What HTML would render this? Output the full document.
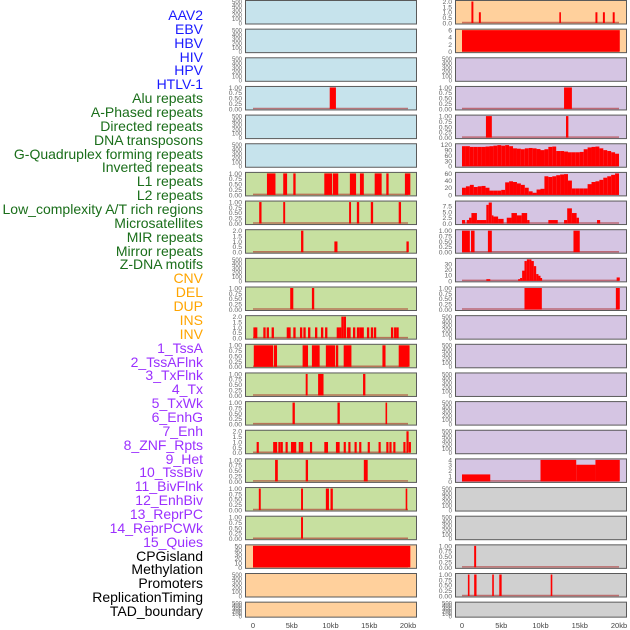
<!DOCTYPE html>
<html><head><meta charset="utf-8">
<style>
html,body{margin:0;padding:0;background:#fff;}
#wrap{position:relative;width:630px;height:630px;overflow:hidden;font-family:"Liberation Sans",sans-serif;}
.lab{position:absolute;right:427px;font-size:14px;line-height:14px;white-space:nowrap;}
svg{position:absolute;left:0;top:0;}
</style></head>
<body>
<div id="wrap">
<div id="labels"></div>
<svg id="plot" width="630" height="630"></svg>
</div>
<script>
const labelNames = ["AAV2","EBV","HBV","HIV","HPV","HTLV-1","Alu repeats","A-Phased repeats","Directed repeats","DNA transposons","G-Quadruplex forming repeats","Inverted repeats","L1 repeats","L2 repeats","Low_complexity A/T rich regions","Microsatellites","MIR repeats","Mirror repeats","Z-DNA motifs","CNV","DEL","DUP","INS","INV","1_TssA","2_TssAFlnk","3_TxFlnk","4_Tx","5_TxWk","6_EnhG","7_Enh","8_ZNF_Rpts","9_Het","10_TssBiv","11_BivFlnk","12_EnhBiv","13_ReprPC","14_ReprPCWk","15_Quies","CPGisland","Methylation","Promoters","ReplicationTiming","TAD_boundary"];
const labelColors = ["#1a1aff","#1a1aff","#1a1aff","#1a1aff","#1a1aff","#1a1aff",
 "#1a6e1a","#1a6e1a","#1a6e1a","#1a6e1a","#1a6e1a","#1a6e1a","#1a6e1a","#1a6e1a","#1a6e1a","#1a6e1a","#1a6e1a","#1a6e1a","#1a6e1a",
 "#ffa500","#ffa500","#ffa500","#ffa500","#ffa500",
 "#9b30ff","#9b30ff","#9b30ff","#9b30ff","#9b30ff","#9b30ff","#9b30ff","#9b30ff","#9b30ff","#9b30ff","#9b30ff","#9b30ff","#9b30ff","#9b30ff","#9b30ff",
 "#000","#000","#000","#000","#000"];

const c1Alu = [[9.9,10.7,1]];
const c1L1 = [[1.8,2.9,1],[3.9,4.4,1],[5.2,5.5,1],[9.2,10.2,1],[10.3,11.0,1],[12.5,13.3,1],[13.8,14.3,1],[15.7,16.6,1],[17.2,17.5,1],[19.6,20.3,1]];
const c1Low = [[0.8,1.1,1],[3.9,4.15,1],[12.4,12.65,1],[13.4,13.7,1],[15.2,15.5,1],[18.8,19.1,1]];
const c1MIR = [[6.2,6.5,2],[10.5,10.9,1],[19.8,20.1,1]];
const c1DEL = [[4.8,5.2,1],[7.6,7.9,1]];
const c1INSstarts = [0.05,0.26,1.33,1.76,2.4,4.35,4.56,5.2,6.06,6.5,7.1,8.0,8.77,9.3,10.8,11.1,11.4,11.7,12.1,12.3,12.9,13.4,13.7,14.0,14.7,15.2,15.6,17.8,18.2,18.5];
const c1INSvalues = [1,1,1,1,1,1,1,1,1,1,1,1,1,1,1,1,2,2,1,1,1,1,1,1,1,1,1,1,1,1];
const c1TssA = [[0.1,2.6,1],[2.7,3.1,1],[6.4,7.1,1],[7.6,8.6,1],[9.4,10.6,1],[10.7,11.0,1],[11.7,12.7,1],[16.7,17.1,1],[18.8,20.2,1]];
const c1TxFlnk = [[6.8,7.05,1],[8.4,9.1,1],[14.2,14.5,1]];
const c1TxWk = [[5.1,5.4,1],[10.9,11.2,1],[17.1,17.3,1]];
const c1EnhStarts = [0.47,2.6,2.84,3.27,3.57,4.2,4.9,5.1,5.3,5.9,6.2,7.35,9.2,9.4,10.7,10.9,11.7,12.3,13.1,13.7,14.8,16.2,17.2,17.6,18.1,19.4,19.8,20.1];
const c1EnhValues = [1,1,1,1,1,1,1,1,1,1,1,1,1,1,1,1,1,1,1,1,1,1,1,1,1,1,2,1];
const c1Het = [[2.85,3.2,1],[6.8,7.1,1],[14.3,14.8,1]];
const c1BivFlnk = [[0.75,1.0,1],[6.2,6.45,1],[9.4,9.8,1],[10.0,10.3,1],[19.7,19.9,1]];
const c1EnhBiv = [[6.2,6.45,1]];
const c1CpG = [[0,20.3,50]];

const c2AAV2 = [[1.2,1.45,2],[2.15,2.4,1],[12.4,12.6,1],[17.0,17.25,1],[17.95,18.2,1],[19.2,19.45,1]];
const c2EBV = [[0,20.1,6]];
const c2Alu = [[13.0,14.0,1]];
const c2Directed = [[3.05,3.8,1],[13.25,13.55,1]];
const c2GQuad = [112,112,108,108,108,108,110,112,115,118,115,118,112,100,98,95,100,102,100,96,90,95,108,110,85,85,82,78,78,78,80,95,105,108,110,100,90,85,78,70];
const c2Inverted = [20,24,28,22,24,25,20,12,12,12,14,35,38,36,32,28,20,10,6,15,17,52,50,52,55,57,58,40,18,18,18,18,30,36,38,42,48,52,56,60];
const c2Low = [[0,0.4,1.5],[0.6,0.9,1.5],[0.9,1.2,2.5],[1.2,1.9,4.5],[1.9,3.1,1.5],[3.1,3.4,8],[3.4,3.8,9],[3.8,4.0,3.5],[4.0,4.6,3],[4.6,5.3,2],[5.7,6.3,2.5],[6.3,7.0,4.5],[7.0,7.6,3.5],[7.6,8.3,4.5],[8.3,8.6,1.5],[11.0,12.2,1.5],[13.0,13.4,1.5],[13.4,14.0,6.5],[14.0,14.6,4.5],[14.6,14.9,2.5],[17.2,17.6,1.5]];
const c2Mirror = [[0,1.0,1],[1.15,1.6,1],[3.3,3.8,1],[14.2,15.0,1]];
const c2ZDNA = [[3.1,3.6,3],[7.15,7.4,3],[7.4,7.66,5],[7.66,7.96,18],[7.96,8.26,35],[8.26,8.55,38],[8.55,8.85,38],[8.85,9.15,35],[9.15,9.45,26],[9.45,9.74,12],[9.74,10.0,9],[10.0,10.2,5],[19.7,20.1,6]];
const c2DUP = [[7.96,10.17,1],[19.6,20.1,1]];
const c2Het = [[0,3.6,1.3],[10,14.55,4],[14.55,17,3.1],[17,20.1,4]];
const c2CpG = [[1.55,1.8,1]];
const c2Promoters = [[0.75,0.95,1],[1.55,1.85,1],[3.85,4.05,1],[4.75,5.05,1],[11.3,11.5,1]];

const xTickValues = [0,5,10,15,20];
const xTickLabels = ["0","5kb","10kb","15kb","20kb"];
const emptyTicks = [0,100,200,300,400,500];

const BL="#c6e3ec", PE="#ffd09c", GR="#c7e0a0", LA="#d5c5e3", GY="#d0d0d0";
function iv(starts, vals, w){ return starts.map((s,i)=>[s,s+w,vals[i]]); }
function bins(v){ return v.map((y,i)=>[i*0.5,(i+1)*0.5,y]); }
const T1=[0,0.25,0.5,0.75,1.0], T2=[0,0.5,1.0,1.5,2.0];
const col1 = [
 [BL,null,0,500,emptyTicks],[BL,null,0,500,emptyTicks],[BL,null,0,500,emptyTicks],
 [BL,c1Alu,1,1,T1],[BL,null,0,500,emptyTicks],[BL,null,0,500,emptyTicks],
 [GR,c1L1,1,1,T1],[GR,c1Low,1,1,T1],[GR,c1MIR,1,2,T2],[GR,null,0,500,emptyTicks],
 [GR,c1DEL,1,1,T1],[GR,iv(c1INSstarts,c1INSvalues,0.3),1,2,T2],[GR,c1TssA,1,1,T1],
 [GR,c1TxFlnk,1,1,T1],[GR,c1TxWk,1,1,T1],[GR,iv(c1EnhStarts,c1EnhValues,0.28),1,2,T2],
 [GR,c1Het,1,1,T1],[GR,c1BivFlnk,1,1,T1],[GR,c1EnhBiv,1,1,T1],
 [PE,c1CpG,1,50,[0,10,20,30,40,50]],[PE,null,0,500,emptyTicks],[PE,null,0,500,emptyTicks]
];
const col2 = [
 [PE,c2AAV2,1,2,T2],[PE,c2EBV,1,6,[0,2,4,6]],[LA,null,0,500,emptyTicks],
 [LA,c2Alu,1,1,T1],[LA,c2Directed,1,1,T1],[LA,bins(c2GQuad),1,120,[0,30,60,90,120]],
 [LA,bins(c2Inverted),1,60,[0,20,40,60]],[LA,c2Low,1,9.2,[0,2.5,5,7.5]],[LA,c2Mirror,1,1,T1],
 [LA,c2ZDNA,1,38,[0,10,20,30]],[LA,c2DUP,1,1,T1],[LA,null,0,500,emptyTicks],
 [LA,null,0,500,emptyTicks],[LA,null,0,500,emptyTicks],[LA,null,0,500,emptyTicks],
 [LA,null,0,500,emptyTicks],[LA,c2Het,1,4,[0,1,2,3,4]],[GY,null,0,500,emptyTicks],
 [GY,null,0,500,emptyTicks],[GY,c2CpG,1,1,T1],[GY,c2Promoters,1,1,T1],[GY,null,0,500,emptyTicks]
];

const labDiv = document.getElementById('labels');
labelNames.forEach((n,i)=>{
  const d=document.createElement('div');
  d.className='lab';
  d.style.top=(8+i*13.86)+'px';
  d.style.color=labelColors[i];
  d.textContent=n;
  
  
  labDiv.appendChild(d);
});

const svg=document.getElementById('plot');
const NS="http://www.w3.org/2000/svg";
function mk(tag,attrs,parent){const e=document.createElementNS(NS,tag);for(const k in attrs)e.setAttribute(k,attrs[k]);(parent||svg).appendChild(e);return e;}
const cols=[{left:245,x0:253,pxPerKb:7.75,data:col1,name:'left'},{left:455,x0:462,pxPerKb:7.85,data:col2,name:'right'}];
cols.forEach(c=>{
  const xs=kb=>c.x0+kb*c.pxPerKb;
  c.data.forEach((p,i)=>{
    const top=28.65*i, h=(i===21?16:24.5), bot=top+h;
    const [bg,data,kind,ymax,ticks]=p;
    const g=mk('g',{});
    
    
    mk('rect',{x:c.left+0.5,y:top+0.5,width:171,height:h-1,fill:bg,stroke:'#5a5a5a','stroke-width':1},g);
    const ys=v=>bot-1.5-v/ymax*(h-3);
    ticks.forEach(t=>{
      const tx=mk('text',{x:c.left-3,y:ys(t)+2.4,'font-size':(ymax===500?6:6.8),fill:'#666','text-anchor':'end'},g);
      tx.textContent=(ymax===1?t.toFixed(2):(ymax===2||ymax===9.2)?t.toFixed(1):String(t));
      
      
    });
    if(data){
      mk('line',{x1:xs(0),x2:xs(20),y1:bot-2,y2:bot-2,stroke:'rgba(170,30,30,0.55)','stroke-width':1.5},g);
      data.forEach(d=>{
        let x1=xs(d[0]),x2=xs(d[1]);
        if(x2-x1<1.6)x2=x1+1.6;
        const r=mk('rect',{x:x1,y:ys(d[2]),width:x2-x1,height:bot-1.5-ys(d[2]),fill:'#ff0000'},g);
        
        
      });
    }
  });
  xTickValues.forEach((v,k)=>{
    const t=mk('text',{x:xs(v),y:628,'font-size':7.5,fill:'#444','text-anchor':'middle'});
    t.textContent=xTickLabels[k];
    
    
  });
});
</script>
</body></html>
